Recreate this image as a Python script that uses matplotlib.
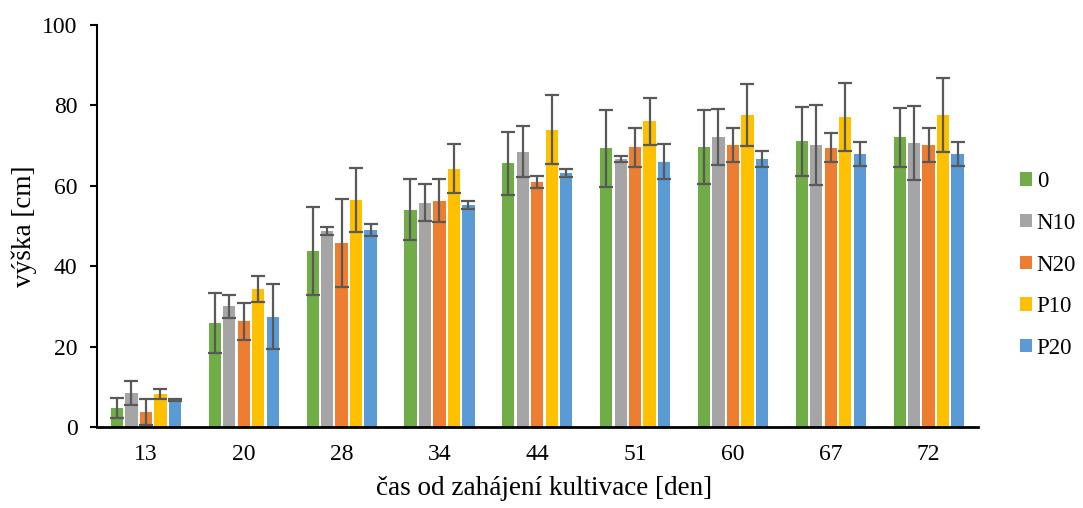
import numpy as np
import matplotlib
matplotlib.use("Agg")
import matplotlib.pyplot as plt

plt.rcParams['font.family'] = 'serif'
plt.rcParams['font.serif'] = ['Liberation Serif', 'Times New Roman', 'DejaVu Serif']

days = ["13", "20", "28", "34", "44", "51", "60", "67", "72"]
series = ["0", "N10", "N20", "P10", "P20"]
colors = ["#70AD47", "#A5A5A5", "#ED7D31", "#FFC000", "#5B9BD5"]

# mean heights [cm]
h_0   = [4.7, 25.8, 43.8, 54.1, 65.6, 69.3, 69.7, 71.1, 72.1]
h_n10 = [8.5, 30.0, 48.8, 55.8, 68.5, 66.7, 72.1, 70.1, 70.6]
h_n20 = [3.7, 26.3, 45.8, 56.3, 61.0, 69.6, 70.1, 69.5, 70.1]
h_p10 = [8.2, 34.3, 56.5, 64.3, 74.0, 76.0, 77.6, 77.1, 77.6]
h_p20 = [6.7, 27.4, 49.0, 55.3, 63.3, 66.0, 66.7, 68.0, 68.0]

# standard deviations
e_0   = [2.5, 7.5, 11.0, 7.5, 7.9, 9.6, 9.2, 8.6, 7.3]
e_n10 = [2.9, 2.9, 1.0, 4.6, 6.4, 0.7, 7.0, 10.0, 9.2]
e_n20 = [3.3, 4.6, 11.0, 5.4, 1.5, 4.9, 4.3, 3.7, 4.3]
e_p10 = [1.25, 3.2, 7.9, 6.1, 8.6, 5.8, 7.8, 8.5, 9.3]
e_p20 = [0.2, 8.1, 1.6, 1.0, 1.0, 4.3, 2.0, 3.0, 3.0]

heights = [h_0, h_n10, h_n20, h_p10, h_p20]
errors = [e_0, e_n10, e_n20, e_p10, e_p20]

fig = plt.figure(figsize=(10.83, 5.08), dpi=100)
ax = fig.add_axes([0.0896, 0.1594, 0.813, 0.7914])

x = np.arange(len(days))
pitch = 0.148
width = 0.125
for i in range(len(series)):
    pos = x + (i - 2) * pitch
    ax.bar(pos, heights[i], width=width, color=colors[i], label=series[i],
           edgecolor='none', zorder=2)
    ax.errorbar(pos, heights[i], yerr=errors[i], fmt='none', ecolor='#595959',
                elinewidth=1.6, capsize=4.8, capthick=1.6, zorder=3)

ax.set_xlim(-0.5, len(days) - 0.5)
ax.set_ylim(0, 100)
ax.set_yticks(range(0, 101, 20))
ax.set_xticks(x)
ax.set_xticklabels(days)
ax.tick_params(axis='x', length=0, pad=12, labelsize=17)
ax.tick_params(axis='y', length=5, width=1.5, pad=9, labelsize=17, direction='out')
for s in ['top', 'right']:
    ax.spines[s].set_visible(False)
ax.spines['left'].set_linewidth(1.5)
ax.spines['bottom'].set_linewidth(2)

ax.set_ylabel("výška [cm]", fontsize=19.5, labelpad=4)
ax.set_xlabel("čas od zahájení kultivace [den]", fontsize=19.5)
ax.xaxis.set_label_coords(0.508, -0.122)

ax.legend(loc='center left', bbox_to_anchor=(1.048, 0.403), frameon=False,
          borderaxespad=0, borderpad=0,
          fontsize=16.5, handlelength=0.52, handleheight=0.52, handletextpad=0.22,
          labelspacing=0.9)

fig.savefig("out.png", dpi=100)
